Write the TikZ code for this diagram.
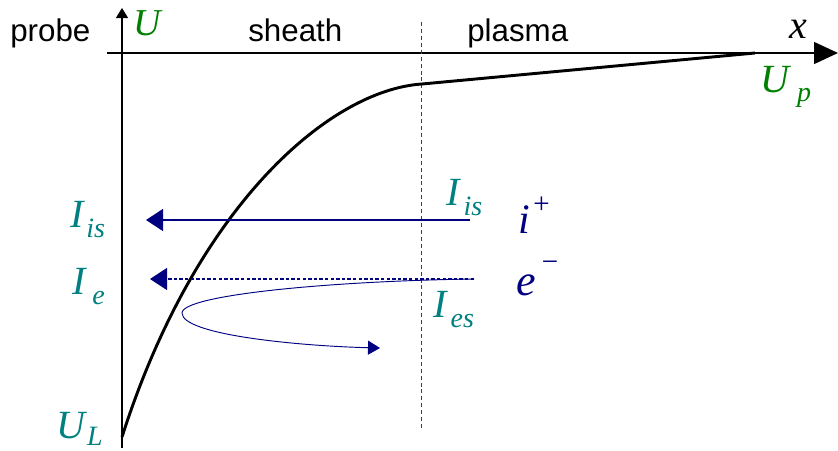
\documentclass[tikz,border=0pt]{standalone}
\usepackage{fontspec}
\setmainfont{Liberation Serif}
\newfontfamily\sansfont{Liberation Sans}
\usetikzlibrary{arrows.meta,calc}
\definecolor{potgreen}{RGB}{0,128,0}
\definecolor{curteal}{RGB}{0,128,128}
\definecolor{partnavy}{RGB}{0,0,128}
\tikzstyle{axis}=[line width=1pt]
\tikzstyle{region}=[font=\sansfont\fontsize{23.5}{23.5}\selectfont,inner sep=0pt,anchor=base west]
\tikzstyle{sym}=[font=\itshape\fontsize{30}{30}\selectfont,inner sep=0pt,anchor=base west]
\tikzstyle{flow}=[partnavy,line width=0.9pt]
\tikzstyle{boundary}=[black!75,line width=0.7pt,dash pattern=on 3pt off 2.2pt]
\newcommand{\lowsub}[2]{\raisebox{-#1}{\fontsize{21}{21}\selectfont #2}}
\newcommand{\highsup}[2]{\raisebox{#1}{\fontsize{22}{22}\selectfont #2}}

\begin{document}
\begin{tikzpicture}[x=0.75pt,y=-0.75pt]
\useasboundingbox (0,0) rectangle (838,450);
% axes
\coordinate (ybot) at (122,448);
\coordinate (ytop) at (122,8);
\coordinate (xleft) at (107,53);
\coordinate (xright) at (838,53);
\draw[axis,-{Triangle[length=7.5pt,width=9pt]}] (ybot) -- (ytop);
\draw[axis,-{Triangle[length=18pt,width=16.5pt]}] (xleft) -- (xright);
% sheath edge
\coordinate (edgetop) at (421,22);
\coordinate (edgebot) at (421,430);
\draw[boundary] (edgetop) -- (edgebot);
% potential
\coordinate (UL) at (122,437);
\coordinate (knee) at (422,84);
\coordinate (Up) at (755,53);
\draw[line width=2.2pt] (UL) .. controls (196,205) and (330,90) .. (knee) -- (Up);
% ion and electron currents
\coordinate (isR) at (470,220);
\coordinate (isL) at (146,220);
\coordinate (eR) at (474,279);
\coordinate (eL) at (150,279);
\coordinate (turn) at (182,313);
\coordinate (back) at (380,348);
\draw[flow,-{Triangle[length=12.75pt,width=16.5pt]}] (isR) -- (isL);
\draw[flow,dash pattern=on 2.6pt off 1.6pt,-{Triangle[length=12.75pt,width=16.5pt]}] (eR) -- (eL);
\draw[flow,line width=0.7pt,-{Triangle[length=9pt,width=10.5pt]}] (eR) .. controls (330,281) and (182,295) .. (turn) .. controls (182,335) and (300,346) .. (back);
% labels
\node[region] (probe) at (10,41) {probe};
\node[region] (sheath) at (248,41) {sheath};
\node[region] (plasma) at (467,41) {plasma};
\node[sym,potgreen,font=\itshape\fontsize{28.5}{28.5}\selectfont] (Ulab) at (133,35) {U};
\node[sym] (xlab) at (789,38) {x};
\node[sym,potgreen] (Uplab) at (760,92) {U\hspace{6pt}\lowsub{7pt}{p}};
\node[sym,curteal] (Iisl) at (70,227) {I\hspace{2pt}\lowsub{8pt}{is}};
\node[sym,curteal] (Iel) at (72,294) {I\hspace{5pt}\lowsub{8pt}{e}};
\node[sym,curteal] (ULlab) at (56,438) {U\hspace{1.5pt}\lowsub{5.5pt}{L}};
\node[sym,curteal] (Iisr) at (446,205) {I\hspace{3pt}\lowsub{7.5pt}{is}};
\node[sym,curteal] (Iesr) at (433,317) {I\hspace{3pt}\lowsub{7.5pt}{es}};
\node[sym,partnavy,font=\itshape\fontsize{31.5}{31.5}\selectfont] (ion) at (518,233) {i\hspace{1pt}\highsup{15pt}{+}};
\node[sym,partnavy,font=\itshape\fontsize{33}{33}\selectfont] (elec) at (516,295) {e\hspace{3pt}\highsup{18pt}{−}};
\end{tikzpicture}
\end{document}
